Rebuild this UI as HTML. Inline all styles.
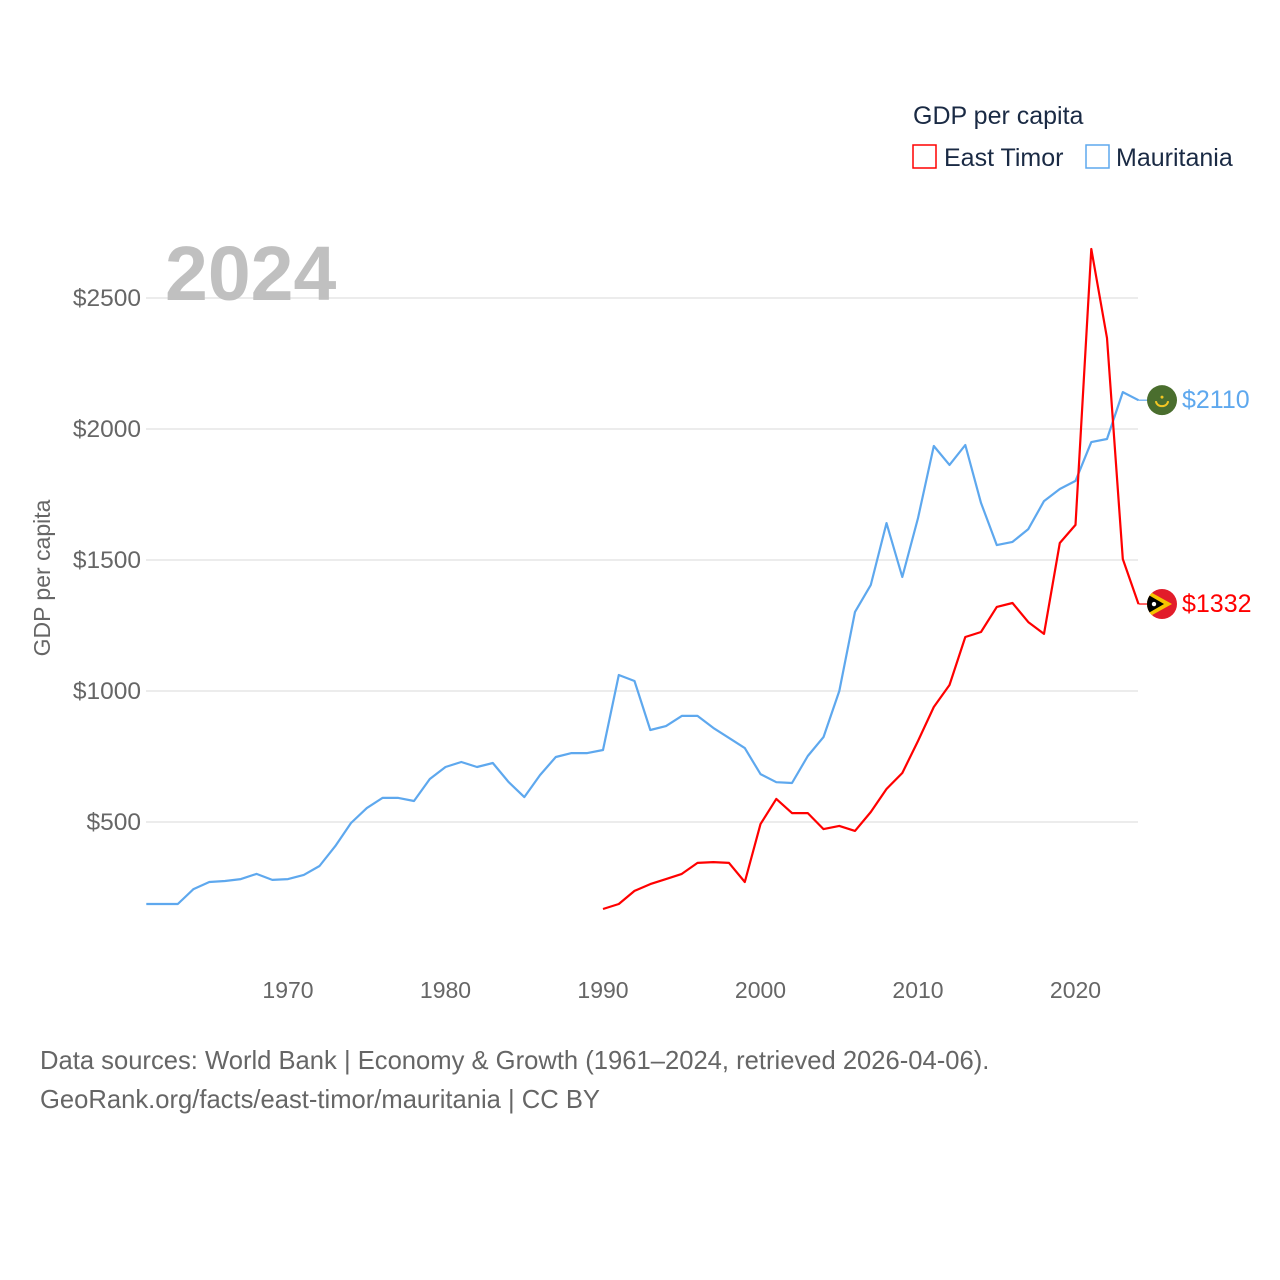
<!DOCTYPE html>
<html><head><meta charset="utf-8">
<style>
body{margin:0;background:#fff;font-family:"Liberation Sans",sans-serif;}
#wrap{position:relative;width:1280px;height:1280px;overflow:hidden;}
</style></head>
<body>
<div id="wrap">
<svg id="chart" width="1280" height="1280"></svg>
</div>
<script>
const years = Array.from({length:64},(_,i)=>1961+i);
const mauritania = [187,187,187,244,271,275,282,302,279,282,298,332,408,496,553,592,592,580,664,710,729,710,725,653,595,679,748,763,763,775,1061,1038,851,866,905,905,859,821,782,683,652,649,752,824,1000,1302,1405,1641,1435,1660,1935,1863,1939,1718,1557,1569,1618,1725,1771,1802,1950,1962,2141,2110];
const etYears = Array.from({length:35},(_,i)=>1990+i);
const eastTimor = [168,187,237,263,282,302,344,347,344,271,492,588,534,534,473,485,466,538,626,687,809,939,1023,1206,1225,1321,1336,1263,1218,1565,1634,2687,2347,1504,1332];
const yTicks = [500,1000,1500,2000,2500];
const xTicks = [1970,1980,1990,2000,2010,2020];

const NS="http://www.w3.org/2000/svg";
const svg=document.getElementById('chart');
const X=y=>288+(y-1970)*15.75;
const Y=v=>822-(v-500)*0.262;
function el(tag,attrs,parent){const e=document.createElementNS(NS,tag);for(const k in attrs)e.setAttribute(k,attrs[k]);(parent||svg).appendChild(e);return e;}
function txt(s,attrs){const e=el('text',attrs);e.textContent=s;return e;}

yTicks.forEach(v=>{
  const g=el('line',{x1:146,x2:1138,y1:Y(v),y2:Y(v),stroke:'#e6e6e6','stroke-width':1.5});
  
  
  const t=txt('$'+v,{x:141,y:Y(v)+8,'text-anchor':'end','font-size':24.5,fill:'#666'});
  
  
});
xTicks.forEach(yr=>{
  const t=txt(String(yr),{x:X(yr),y:998,'text-anchor':'middle','font-size':23,fill:'#666'});
  
  
});
const yt=txt('GDP per capita',{x:0,y:0,transform:'translate(50,578) rotate(-90)','text-anchor':'middle','font-size':23,fill:'#666'});


const yr=txt('2024',{x:165,y:300,'font-size':77,'font-weight':'bold',fill:'#c0c0c0'});



function line(xs,vs,color,name){
  const d=vs.map((v,i)=>(i?'L':'M')+X(xs[i]).toFixed(1)+','+Y(v).toFixed(1)).join('');
  const p=el('path',{d:d,fill:'none',stroke:color,'stroke-width':2.2,'stroke-linejoin':'round'});
  
  
  const lx=X(xs[xs.length-1]), ly=Y(vs[vs.length-1]);
  const c=el('line',{x1:lx,y1:ly,x2:1150,y2:ly,stroke:color,'stroke-width':1.2});
  
  
  return ly;
}
const ym=line(years,mauritania,'#5ea8ee','mauritania-line');
const ye=line(etYears,eastTimor,'#ff0000','east-timor-line');

// Mauritania flag
const mf=el('circle',{cx:1162,cy:ym,r:15,fill:'#4a6e2e'});


el('path',{d:`M1156,${ym+1} A6,5 0 0 0 1168,${ym+1}`,fill:'none',stroke:'#f3c623','stroke-width':2});
el('circle',{cx:1162,cy:ym-3,r:1.5,fill:'#f3c623'});
const ml=txt('$'+mauritania[mauritania.length-1],{x:1182,y:ym+8,'font-size':25,fill:'#5ea8ee'});



// East Timor flag (clipped)
const defs=el('defs',{});
const cp=el('clipPath',{id:'etclip'},defs);
el('circle',{cx:1162,cy:ye,r:15},cp);
const eg=el('g',{'clip-path':'url(#etclip)'});


el('rect',{x:1145,y:ye-16,width:34,height:32,fill:'#e21c2a'},eg);
el('path',{d:`M1145,${ye-15} L1172,${ye} L1145,${ye+15}Z`,fill:'#f5c400'},eg);
el('path',{d:`M1145,${ye-11} L1164,${ye} L1145,${ye+11}Z`,fill:'#000'},eg);
el('circle',{cx:1154,cy:ye,r:2.2,fill:'#fff'},eg);
const el2=txt('$'+eastTimor[eastTimor.length-1],{x:1182,y:ye+8,'font-size':25,fill:'#ff0000'});



// Legend
const lt=txt('GDP per capita',{x:913,y:124,'font-size':25,fill:'#1a2a44'});


const r1=el('rect',{x:913,y:145,width:23,height:23,fill:'none',stroke:'#ff0000','stroke-width':1.5});


const t1=txt('East Timor',{x:944,y:166,'font-size':25,fill:'#1a2a44'});


const r2=el('rect',{x:1086,y:145,width:23,height:23,fill:'none',stroke:'#5ea8ee','stroke-width':1.5});


const t2=txt('Mauritania',{x:1116,y:166,'font-size':25,fill:'#1a2a44'});



// Footer
const f1=txt('Data sources: World Bank | Economy & Growth (1961–2024, retrieved 2026-04-06).',{x:40,y:1069,'font-size':25.6,fill:'#666'});


const f2=txt('GeoRank.org/facts/east-timor/mauritania | CC BY',{x:40,y:1108,'font-size':25.6,fill:'#666'});


</script>
</body></html>
